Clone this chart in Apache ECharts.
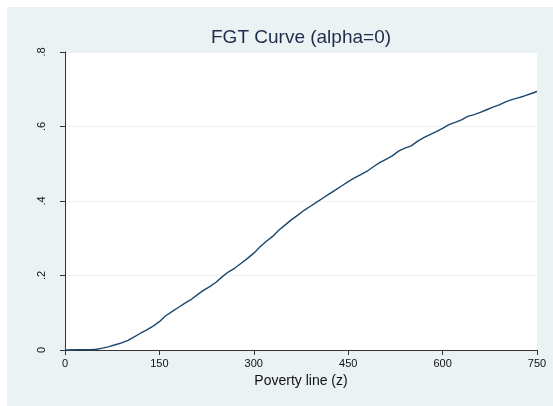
<!DOCTYPE html>
<html>
<head>
<meta charset="utf-8">
<script src="https://cdn.jsdelivr.net/npm/echarts@6/dist/echarts.min.js"></script>
<style>
html,body{margin:0;padding:0;background:#fff;}
#wrap{position:relative;width:553px;height:406px;background:#fff;}
#chart{position:absolute;left:7px;top:7px;width:546px;height:399px;}
</style>
</head>
<body>
<div id="wrap"><div id="chart"></div></div>
<script>
var povertyLine = [0,20,40,50,60,70,80,90,100,110,120,130,140,150,160,170,180,190,200,210,220,230,240,250,260,270,280,290,300,310,320,330,340,350,360,370,380,390,400,410,420,430,440,450,460,470,480,490,500,510,520,530,540,550,560,570,580,590,600,610,620,630,640,650,660,670,680,690,700,710,720,730,740,750];
var fgt0 = [0,0.0005,0.001,0.002,0.005,0.009,0.014,0.019,0.026,0.035,0.045,0.054,0.064,0.076,0.092,0.103,0.114,0.125,0.135,0.148,0.160,0.170,0.182,0.197,0.210,0.220,0.233,0.246,0.260,0.277,0.292,0.305,0.322,0.336,0.350,0.362,0.375,0.386,0.397,0.408,0.419,0.430,0.441,0.452,0.462,0.471,0.480,0.492,0.503,0.512,0.521,0.534,0.542,0.548,0.560,0.570,0.578,0.586,0.595,0.605,0.611,0.618,0.627,0.632,0.638,0.645,0.652,0.658,0.666,0.672,0.677,0.682,0.688,0.694];
var xTicks = [0,150,300,450,600,750];
var yTickLabels = {0:'0',0.2:'.2',0.4:'.4',0.6:'.6',0.8:'.8'};

var pts = povertyLine.map(function(z,i){return [z,fgt0[i]];});
var chart = echarts.init(document.getElementById('chart'), null, {renderer:'canvas'});
chart.setOption({
  backgroundColor:'#EAF2F3',
  animation:false,
  title:{
    text:'FGT Curve (alpha=0)',
    left:204, top:21,
    padding:0,
    textStyle:{fontFamily:'Liberation Sans, Arial, sans-serif',fontSize:19,fontWeight:'normal',color:'#1f2c4c'}
  },
  grid:{left:58,right:16,top:45,bottom:56,show:true,backgroundColor:'#ffffff',borderWidth:0},
  xAxis:{
    type:'value',min:0,max:750,interval:150,
    name:'Poverty line (z)',nameLocation:'middle',nameGap:21,
    nameTextStyle:{fontFamily:'Liberation Sans, Arial, sans-serif',fontSize:14,color:'#111'},
    axisLine:{show:true,onZero:false,lineStyle:{color:'#333',width:1}},
    axisTick:{show:true,length:5,inside:false,lineStyle:{color:'#333'}},
    axisLabel:{fontFamily:'Liberation Sans, Arial, sans-serif',fontSize:11,color:'#111',margin:8,
      formatter:function(v){return xTicks.indexOf(v)>=0?String(v):'';}},
    splitLine:{show:false}
  },
  yAxis:{
    type:'value',min:0,max:0.8,interval:0.2,
    axisLine:{show:true,onZero:false,lineStyle:{color:'#333',width:1}},
    axisTick:{show:true,length:5,inside:false,lineStyle:{color:'#333'}},
    axisLabel:{fontFamily:'Liberation Sans, Arial, sans-serif',fontSize:11,color:'#111',rotate:90,margin:18,
      formatter:function(v){var k=Math.round(v*10)/10;return yTickLabels[k]!==undefined?yTickLabels[k]:'';}},
    splitLine:{show:true,lineStyle:{color:'#EAF2F3',width:1}}
  },
  series:[{
    type:'line',data:pts,showSymbol:false,symbol:'none',
    lineStyle:{color:'#1a476f',width:1.4},
    smooth:false
  }]
});
</script>
</body>
</html>
